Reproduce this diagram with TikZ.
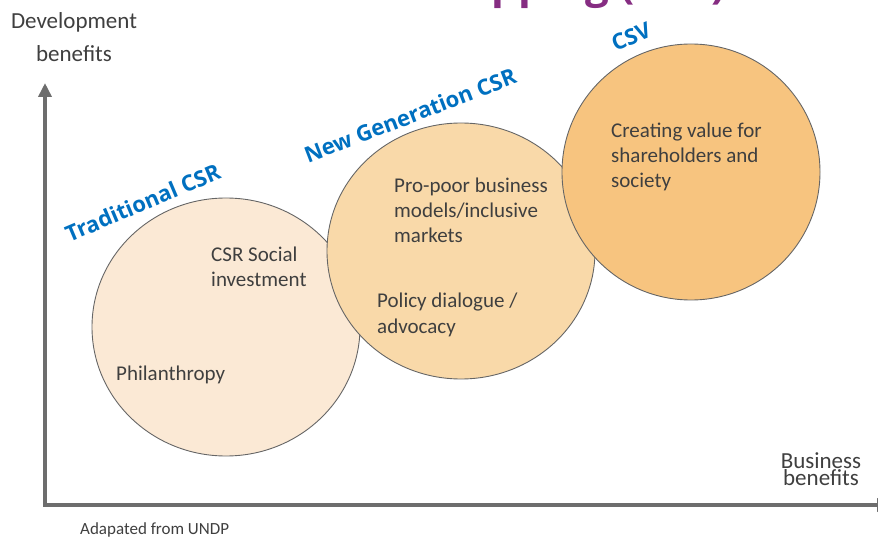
\documentclass[tikz,border=0pt]{standalone}
\usepackage{fontspec}
\setmainfont{Carlito}
\newfontfamily\labelfont{Open Sans}
\usetikzlibrary{arrows.meta}

\definecolor{axisgray}{HTML}{6D6D6D}
\definecolor{textgray}{HTML}{3F3F3F}
\definecolor{csrblue}{HTML}{0070C0}
\definecolor{titlepurple}{HTML}{862D82}
\definecolor{tradfill}{HTML}{FBE9D5}
\definecolor{newgenfill}{HTML}{F9D9A9}
\definecolor{csvfill}{HTML}{F7C47F}

\tikzset{
    bubble/.style={draw=black!60, line width=0.9pt},
    stage/.style={font=\labelfont\bfseries\fontsize{22}{26}\selectfont, text=csrblue,
        inner sep=0pt, anchor=base},
    inbubble/.style={font=\fontsize{21}{25}\selectfont, text=textgray, align=left,
        inner sep=0pt, anchor=base west},
    axislabel/.style={text=textgray, align=center, inner sep=0pt, anchor=base}
}

\begin{document}
\begin{tikzpicture}[x=1pt,y=-1pt]
    \useasboundingbox (0,0) rectangle (878,537);
    % title, cut off at the top
    \node[font=\labelfont\bfseries\fontsize{42}{46}\selectfont, text=titlepurple,
        anchor=base east, inner sep=0pt] (title) at (726,-1) {Mapping (CSV)};

    % the three stages
    \filldraw[bubble, fill=tradfill] (226,327) ellipse [x radius=134pt, y radius=129pt];
    \filldraw[bubble, fill=newgenfill] (461,251) ellipse [x radius=134pt, y radius=128pt];
    \filldraw[bubble, fill=csvfill] (691,172) ellipse [x radius=129pt, y radius=128pt];

    % axes
    \coordinate (ytop) at (45,83);
    \coordinate (origin) at (45,505);
    \coordinate (xend) at (891,505);
    \draw[line width=3.5pt, axisgray, line join=miter,
        {Triangle[length=14pt,width=13pt]}-{Triangle[length=14pt,width=13pt]}]
        (ytop) -- (origin) -- (xend);
    % base of a node with several lines is its last line
    \node[axislabel, font=\fontsize{23}{33}\selectfont] (devlabel) at (74,62)
        {Development\\benefits};
    \node[axislabel, font=\fontsize{23}{17}\selectfont] (buslabel) at (821,485)
        {Business\\benefits};
    \node[font=\fontsize{17}{20}\selectfont, text=textgray, anchor=base west,
        inner sep=0pt] (source) at (80,534) {Adapated from UNDP};

    % stage names
    \node[stage, rotate=23] (tradlabel) at (146,210) {Traditional CSR};
    \node[stage, rotate=21] (newgenlabel) at (413,123) {New Generation CSR};
    \node[stage, rotate=22] (csvlabel) at (634,44) {CSV};

    % what sits in each stage
    \node[inbubble] (socialinv) at (211,287) {CSR Social\\investment};
    \node[inbubble] (philanthropy) at (116,380) {Philanthropy};
    \node[inbubble] (propoor) at (394,243) {Pro-poor business\\models/inclusive\\markets};
    \node[inbubble] (policy) at (377,333) {Policy dialogue /\\advocacy};
    \node[inbubble] (sharedvalue) at (611,188) {Creating value for\\shareholders and\\society};

\end{tikzpicture}
\end{document}
